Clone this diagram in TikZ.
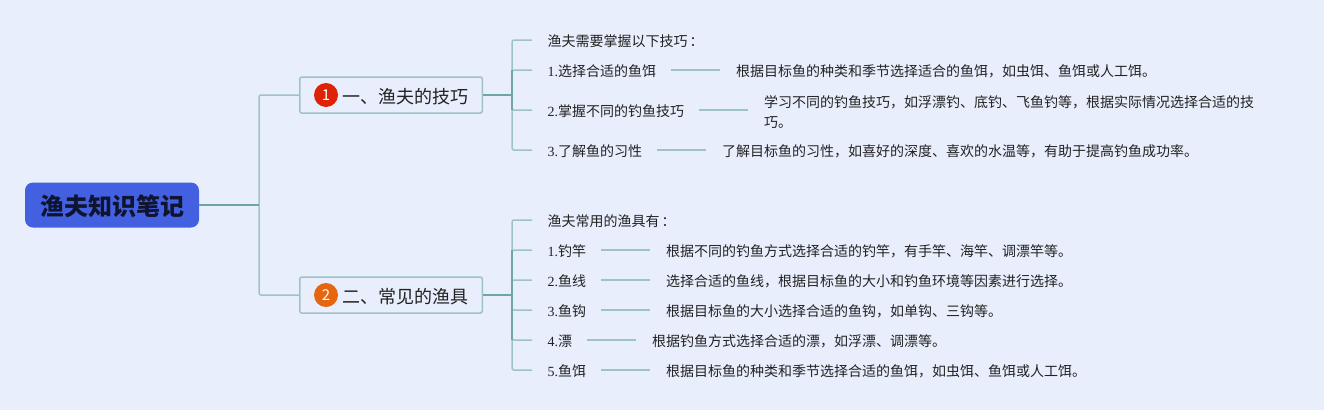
\documentclass[tikz,border=0pt]{standalone}
\usepackage{fontspec}
\setmainfont{Liberation Serif}
\newfontfamily\cjk{Noto Sans CJK SC}
\usetikzlibrary{calc}
\definecolor{pagebg}{HTML}{E9EEFD}
\definecolor{rootblue}{HTML}{4360E0}
\definecolor{rootink}{HTML}{0F1430}
\definecolor{redbadge}{HTML}{DD2205}
\definecolor{orangebadge}{HTML}{E56510}
\definecolor{stem}{HTML}{6FA5A5}
\definecolor{twigline}{HTML}{9DC3C8}
\definecolor{inktext}{HTML}{222222}
\tikzset{
  root/.style={fill=rootblue, rounded corners=8pt, minimum width=174pt, minimum height=45pt, inner sep=0pt,
    text height=24pt, text depth=3pt, text=rootink, font=\fontsize{24}{28}\selectfont\cjk\bfseries},
  branch/.style={draw=twigline, line width=1.5pt, fill=pagebg, rounded corners=2pt, anchor=west,
    minimum height=36pt, inner xsep=14.25pt, inner ysep=0pt, text height=18pt, text depth=1.4pt,
    text=inktext, font=\fontsize{18}{22}\selectfont\cjk},
  badge/.style={circle, minimum size=24pt, inner sep=0pt, text=white, font=\fontsize{15}{18}\selectfont\cjk},
  leaf/.style={anchor=west, inner sep=0pt, text height=14pt, text depth=2pt, text=inktext,
    font=\fontsize{14}{20}\selectfont},
  detail/.style={leaf, font=\fontsize{14}{20}\selectfont\cjk},
  stemline/.style={draw=stem, line width=1.5pt},
  twig/.style={draw=twigline, line width=1.5pt, rounded corners=2pt}
}

\begin{document}
\begin{tikzpicture}[x=1pt,y=-1pt]
\useasboundingbox (0,0) rectangle (1324,410);
\fill[pagebg] (0,0) rectangle (1324,410);

\node[root] (root) at (112,205) {渔夫知识笔记};
\node[branch] (skills) at (299,95) {\hspace{28pt}一、渔夫的技巧};
\node[branch] (gear) at (299,295) {\hspace{28pt}二、常见的渔具};
\node[badge, fill=redbadge] (badgeA) at (326,95) {1};
\node[badge, fill=orangebadge] (badgeB) at (326,295) {2};

% first group
\node[leaf] (skillsHead) at (547.5,40) {\cjk 渔夫需要掌握以下技巧\hspace{2pt}：};
\node[leaf] (skillsA) at (547.5,70) {1.{\cjk 选择合适的鱼饵}};
\node[leaf] (skillsB) at (547.5,110) {2.{\cjk 掌握不同的钓鱼技巧}};
\node[leaf] (skillsC) at (547.5,150) {3.{\cjk 了解鱼的习性}};
\node[detail] (tipA) at (736,70) {根据目标鱼的种类和季节选择适合的鱼饵，如虫饵、鱼饵或人工饵。};
\node[detail, text height=, text depth=, align=left, yshift=-2pt] (tipB) at (764,110) {学习不同的钓鱼技巧，如浮漂钓、底钓、飞鱼钓等，根据实际情况选择合适的技\\巧。};
\node[detail] (tipC) at (722,150) {了解目标鱼的习性，如喜好的深度、喜欢的水温等，有助于提高钓鱼成功率。};

% second group
\node[leaf] (gearHead) at (547.5,220) {\cjk 渔夫常用的渔具有\hspace{2pt}：};
\node[leaf] (gearA) at (547.5,250) {1.{\cjk 钓竿}};
\node[leaf] (gearB) at (547.5,280) {2.{\cjk 鱼线}};
\node[leaf] (gearC) at (547.5,310) {3.{\cjk 鱼钩}};
\node[leaf] (gearD) at (547.5,340) {4.{\cjk 漂}};
\node[leaf] (gearE) at (547.5,370) {5.{\cjk 鱼饵}};
\node[detail] (noteA) at (666,250) {根据不同的钓鱼方式选择合适的钓竿，有手竿、海竿、调漂竿等。};
\node[detail] (noteB) at (666,280) {选择合适的鱼线，根据目标鱼的大小和钓鱼环境等因素进行选择。};
\node[detail] (noteC) at (666,310) {根据目标鱼的大小选择合适的鱼钩，如单钩、三钩等。};
\node[detail] (noteD) at (652,340) {根据钓鱼方式选择合适的漂，如浮漂、调漂等。};
\node[detail] (noteE) at (666,370) {根据目标鱼的种类和季节选择合适的鱼饵，如虫饵、鱼饵或人工饵。};

\coordinate (hub) at (259,205);
\coordinate (forkA) at (512,95);
\coordinate (forkB) at (512,295);

% root to branches
\draw[twig] (hub) |- (skills.west);
\draw[twig] (hub) |- (gear.west);
\draw[stemline] (root.east) -- (hub);

% branch to leaves
\draw[twig] (forkA) |- ($(skillsHead.west)+(-15.5,0)$);
\draw[twig] (forkA) |- ($(skillsA.west)+(-15.5,0)$);
\draw[twig] (forkA) |- ($(skillsB.west)+(-15.5,0)$);
\draw[twig] (forkA) |- ($(skillsC.west)+(-15.5,0)$);
\draw[twig] (forkB) |- ($(gearHead.west)+(-15.5,0)$);
\draw[twig] (forkB) |- ($(gearA.west)+(-15.5,0)$);
\draw[twig] (forkB) |- ($(gearB.west)+(-15.5,0)$);
\draw[twig] (forkB) |- ($(gearC.west)+(-15.5,0)$);
\draw[twig] (forkB) |- ($(gearD.west)+(-15.5,0)$);
\draw[twig] (forkB) |- ($(gearE.west)+(-15.5,0)$);
\draw[stemline] (forkA |- skillsA.west) -- (forkA |- skillsB.west);
\draw[stemline] (forkB |- gearA.west) -- (forkB |- gearD.west);
\draw[stemline] (skills.east) -- (forkA);
\draw[stemline] (gear.east) -- (forkB);

% leaves to details
\draw[twig] ($(skillsA.east)+(15,0)$) -- ($(tipA.west)+(-16,0)$);
\draw[twig] ($(skillsB.east)+(15,0)$) -- ($(tipB.west)+(-16,-2)$);
\draw[twig] ($(skillsC.east)+(15,0)$) -- ($(tipC.west)+(-16,0)$);
\draw[twig] ($(gearA.east)+(15,0)$) -- ($(noteA.west)+(-16,0)$);
\draw[twig] ($(gearB.east)+(15,0)$) -- ($(noteB.west)+(-16,0)$);
\draw[twig] ($(gearC.east)+(15,0)$) -- ($(noteC.west)+(-16,0)$);
\draw[twig] ($(gearD.east)+(15,0)$) -- ($(noteD.west)+(-16,0)$);
\draw[twig] ($(gearE.east)+(15,0)$) -- ($(noteE.west)+(-16,0)$);
\end{tikzpicture}
\end{document}
